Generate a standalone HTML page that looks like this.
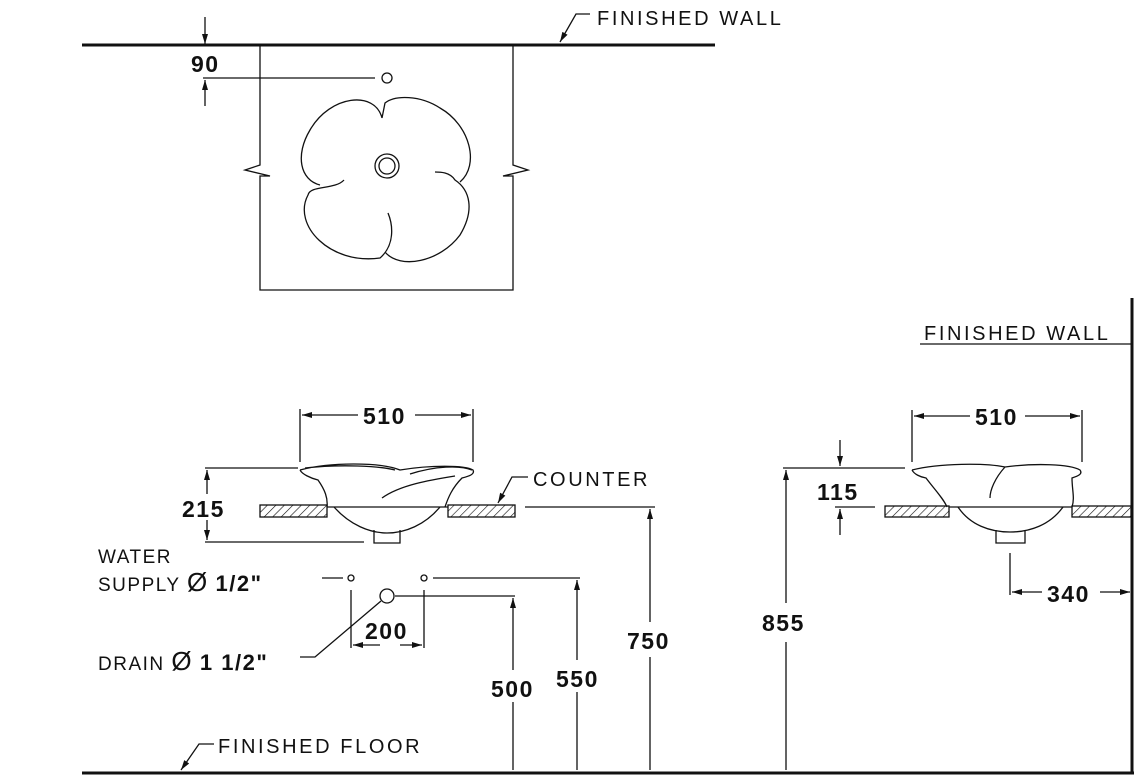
<!DOCTYPE html>
<html><head><style>
html,body{margin:0;padding:0;background:#fff;}
svg{display:block}
text{font-family:"Liberation Sans",sans-serif;fill:#111}
.l{font-size:19px;letter-spacing:1.5px}
.w{font-size:20px;letter-spacing:2.6px}
.n{font-size:23px;font-weight:bold;letter-spacing:1.5px}
</style></head><body>
<svg width="1140" height="781" viewBox="0 0 1140 781" xmlns="http://www.w3.org/2000/svg">
<defs>
<marker id="a" viewBox="0 0 10 6" refX="10" refY="3" markerWidth="14" markerHeight="6" markerUnits="userSpaceOnUse" orient="auto"><path d="M0,0 L10,3 L0,6 Z" fill="#111"/></marker>
<pattern id="h" width="6" height="6" patternUnits="userSpaceOnUse" patternTransform="rotate(45)"><line x1="0" y1="0" x2="0" y2="6" stroke="#111" stroke-width="1.2"/></pattern>
</defs>
<g stroke="#111" fill="none" stroke-width="1.3">
<line x1="82" y1="45" x2="715" y2="45" stroke-width="3"/>
<path d="M260,45 V165 L245,170 L270,176 L260,176 V290 H513 V176 L503,176 L528,170 L513,165 V45"/>
<circle cx="387" cy="78" r="5"/>
<circle cx="387" cy="166" r="12"/>
<circle cx="387" cy="166" r="8"/>
<path d="M382,118 C375,90 330,95 310,130 C295,155 300,180 320,185 M344,180 C335,190 310,185 308,195 C292,225 330,265 380,258 C395,245 393,225 388,213 M385,252 C400,270 440,262 460,235 C475,210 470,190 455,180 C450,172 440,172 435,172 M460,182 C480,165 470,125 440,108 C420,95 395,95 385,103 L382,118"/>
<line x1="205" y1="17" x2="205" y2="44" marker-end="url(#a)"/>
<line x1="205" y1="106" x2="205" y2="80" marker-end="url(#a)"/>
<line x1="203" y1="78" x2="375" y2="78"/>
<path d="M590,14 H576 L560,42" marker-end="url(#a)"/>
<line x1="300" y1="409" x2="300" y2="462"/><line x1="473" y1="409" x2="473" y2="462"/>
<line x1="358" y1="415" x2="302" y2="415" marker-end="url(#a)"/>
<line x1="415" y1="415" x2="471" y2="415" marker-end="url(#a)"/>
<path d="M300,470 C330,462 380,462 400,470 C430,465 465,465 473,470 C475,474 470,476 462,478 C452,488 448,498 445,507 M300,470 C302,474 310,478 318,480 C325,490 328,498 327,507 M305,468 C340,464 380,466 395,470 M410,474 C435,466 460,465 472,470 M382,498 C400,485 430,480 455,476"/>
<path d="M334,507 C350,525 370,533 387,533 C405,533 425,525 440,507"/>
<path d="M374,530 V543 H400 V530"/>
<rect x="260" y="505" width="67" height="12" fill="url(#h)"/>
<rect x="448" y="505" width="67" height="12" fill="url(#h)"/>
<line x1="327" y1="507" x2="448" y2="507"/>
<line x1="205" y1="468" x2="298" y2="468"/><line x1="205" y1="542" x2="364" y2="542"/>
<line x1="207" y1="494" x2="207" y2="470" marker-end="url(#a)"/>
<line x1="207" y1="520" x2="207" y2="540" marker-end="url(#a)"/>
<path d="M528,477 H512 L498,503" marker-end="url(#a)"/>
<line x1="322" y1="578" x2="343" y2="578"/>
<circle cx="351" cy="578" r="3"/><circle cx="424" cy="578" r="3"/>
<line x1="433" y1="578" x2="580" y2="578"/>
<circle cx="387" cy="596" r="7"/>
<line x1="395" y1="596" x2="515" y2="596"/>
<line x1="351" y1="590" x2="351" y2="648"/><line x1="424" y1="590" x2="424" y2="648"/>
<line x1="380" y1="645" x2="353" y2="645" marker-end="url(#a)"/>
<line x1="400" y1="645" x2="422" y2="645" marker-end="url(#a)"/>
<path d="M381,601 L315,657 H300"/>
<line x1="513" y1="670" x2="513" y2="598" marker-end="url(#a)"/><line x1="513" y1="702" x2="513" y2="770"/>
<line x1="577" y1="660" x2="577" y2="580" marker-end="url(#a)"/><line x1="577" y1="692" x2="577" y2="770"/>
<line x1="525" y1="507" x2="655" y2="507"/>
<line x1="650" y1="622" x2="650" y2="509" marker-end="url(#a)"/><line x1="650" y1="657" x2="650" y2="770"/>
<line x1="82" y1="773" x2="1134" y2="773" stroke-width="3"/>
<path d="M214,744 H199 L181,770" marker-end="url(#a)"/>
<line x1="1132" y1="298" x2="1132" y2="773" stroke-width="3"/>
<line x1="920" y1="344" x2="1131" y2="344"/>
<line x1="912" y1="410" x2="912" y2="462"/><line x1="1082" y1="410" x2="1082" y2="462"/>
<line x1="970" y1="416" x2="914" y2="416" marker-end="url(#a)"/>
<line x1="1025" y1="416" x2="1080" y2="416" marker-end="url(#a)"/>
<path d="M912,470 C940,463 985,463 1005,467 C1035,463 1070,464 1080,470 C1083,474 1078,476 1072,478 C1072,490 1075,498 1072,507 M912,470 C914,474 920,477 926,478 C935,490 943,498 947,507 M1005,467 C995,478 990,490 990,498"/>
<path d="M958,507 C970,525 990,532 1010,532 C1030,532 1050,525 1063,507"/>
<path d="M996,530 V543 H1025 V530"/>
<rect x="885" y="506" width="64" height="11" fill="url(#h)"/>
<rect x="1072" y="506" width="59" height="11" fill="url(#h)"/>
<line x1="949" y1="507" x2="1072" y2="507"/>
<line x1="783" y1="468" x2="905" y2="468"/>
<line x1="786" y1="603" x2="786" y2="470" marker-end="url(#a)"/><line x1="786" y1="642" x2="786" y2="770"/>
<line x1="840" y1="440" x2="840" y2="466" marker-end="url(#a)"/>
<line x1="840" y1="535" x2="840" y2="509" marker-end="url(#a)"/>
<line x1="835" y1="507" x2="875" y2="507"/>
<line x1="1010" y1="553" x2="1010" y2="595"/>
<line x1="1042" y1="592" x2="1012" y2="592" marker-end="url(#a)"/>
<line x1="1100" y1="592" x2="1130" y2="592" marker-end="url(#a)"/>
</g>
<text class="w" x="597" y="25">FINISHED WALL</text>
<text class="n" x="191" y="72">90</text>
<text class="n" x="363" y="424">510</text>
<text class="n" x="182" y="517">215</text>
<text class="w" x="533" y="486">COUNTER</text>
<text class="l" x="98" y="563">WATER</text>
<text class="l" x="98" y="591">SUPPLY <tspan font-size="26">Ø</tspan> <tspan font-weight="bold" font-size="22">1/2"</tspan></text>
<text class="l" x="98" y="670">DRAIN <tspan font-size="26">Ø</tspan> <tspan font-weight="bold" font-size="22">1 1/2"</tspan></text>
<text class="n" x="365" y="639">200</text>
<text class="n" x="491" y="697">500</text>
<text class="n" x="556" y="687">550</text>
<text class="n" x="627" y="649">750</text>
<text class="n" x="762" y="631">855</text>
<text class="w" x="218" y="753">FINISHED FLOOR</text>
<text class="w" x="924" y="340">FINISHED WALL</text>
<text class="n" x="975" y="425">510</text>
<text class="n" x="817" y="500">115</text>
<text class="n" x="1047" y="602">340</text>
</svg>
</body></html>
